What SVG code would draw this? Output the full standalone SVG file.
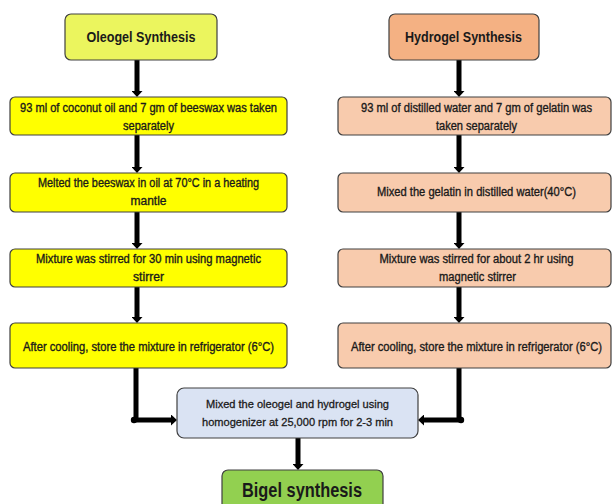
<svg xmlns="http://www.w3.org/2000/svg" width="612" height="504" viewBox="0 0 612 504">
<style>
.box{stroke:#404040;stroke-width:1.2}
.yl{fill:#FFFF00}.ol{fill:#EBF55E}.hy{fill:#F4B183}.pk{fill:#F8CBAD}.bl{fill:#DAE3F3}.gr{fill:#92D050}
text{font-family:"Liberation Sans Narrow","Liberation Sans",Arial,sans-serif;fill:#1a1a1a;text-anchor:middle}
.t{font-size:12.5px;stroke:#1a1a1a;stroke-width:0.35}
.h{font-size:15px;font-weight:bold}
.b{font-size:20px;font-weight:bold}
.m{font-size:11.5px;stroke:#1a1a1a;stroke-width:0.3}
.c{stroke:#000;stroke-width:5;fill:none}
</style>
<defs>
<marker id="ah" viewBox="0 0 6 11" refX="0" refY="5.5" markerWidth="6" markerHeight="11" markerUnits="userSpaceOnUse" orient="auto">
<path d="M0,0 L6,5.5 L0,11 z" fill="#000"/>
</marker>
</defs>
<g id="connectors">
<line class="c" x1="137" y1="60" x2="137" y2="91" marker-end="url(#ah)"/>
<line class="c" x1="137" y1="135" x2="137" y2="167" marker-end="url(#ah)"/>
<line class="c" x1="137" y1="212" x2="137" y2="243" marker-end="url(#ah)"/>
<line class="c" x1="137" y1="287" x2="137" y2="317" marker-end="url(#ah)"/>
<line class="c" x1="459" y1="60" x2="459" y2="91" marker-end="url(#ah)"/>
<line class="c" x1="459" y1="135" x2="459" y2="167" marker-end="url(#ah)"/>
<line class="c" x1="459" y1="212" x2="459" y2="243" marker-end="url(#ah)"/>
<line class="c" x1="459" y1="287" x2="459" y2="317" marker-end="url(#ah)"/>
<polyline class="c" points="136,368 136,420 171,420" marker-end="url(#ah)"/>
<polyline class="c" points="459,368 459,420 424,420" marker-end="url(#ah)"/>
<circle cx="134" cy="420" r="3.2" fill="#000"/>
<circle cx="461" cy="420" r="3.2" fill="#000"/>
<line class="c" x1="298" y1="438" x2="298" y2="464" marker-end="url(#ah)"/>
</g>
<g id="oleogel">
<rect class="box ol" x="65" y="14" width="152" height="46" rx="6"/>
<text class="h" x="141" y="42" textLength="109" lengthAdjust="spacingAndGlyphs">Oleogel Synthesis</text>
</g>
<g id="hydrogel">
<rect class="box hy" x="389" y="14" width="150" height="46" rx="6"/>
<text class="h" x="463.5" y="42" textLength="117" lengthAdjust="spacingAndGlyphs">Hydrogel Synthesis</text>
</g>
<g id="o1">
<rect class="box yl" x="10" y="97" width="277" height="38" rx="5"/>
<text class="t" x="148.5" y="112" textLength="257" lengthAdjust="spacingAndGlyphs">93 ml of coconut oil and 7 gm of beeswax was taken</text>
<text class="t" x="148.5" y="130" textLength="51" lengthAdjust="spacingAndGlyphs">separately</text>
</g>
<g id="o2">
<rect class="box yl" x="10" y="173" width="277" height="39" rx="5"/>
<text class="t" x="148.5" y="187" textLength="221" lengthAdjust="spacingAndGlyphs">Melted the beeswax in oil at 70°C in a heating</text>
<text class="t" x="148.5" y="205" textLength="36" lengthAdjust="spacingAndGlyphs">mantle</text>
</g>
<g id="o3">
<rect class="box yl" x="10" y="249" width="277" height="38" rx="5"/>
<text class="t" x="148.5" y="263" textLength="225" lengthAdjust="spacingAndGlyphs">Mixture was stirred for 30 min using magnetic</text>
<text class="t" x="148.5" y="281" textLength="31" lengthAdjust="spacingAndGlyphs">stirrer</text>
</g>
<g id="o4">
<rect class="box yl" x="10" y="323" width="277" height="45" rx="5"/>
<text class="t" x="148.5" y="351" textLength="251" lengthAdjust="spacingAndGlyphs">After cooling, store the mixture in refrigerator (6°C)</text>
</g>
<g id="h1">
<rect class="box pk" x="338" y="97" width="273" height="38" rx="5"/>
<text class="t" x="476.5" y="112" textLength="231" lengthAdjust="spacingAndGlyphs">93 ml of distilled water and 7 gm of gelatin was</text>
<text class="t" x="476.5" y="130" textLength="81" lengthAdjust="spacingAndGlyphs">taken separately</text>
</g>
<g id="h2">
<rect class="box pk" x="338" y="173" width="273" height="39" rx="5"/>
<text class="t" x="476.5" y="196" textLength="199" lengthAdjust="spacingAndGlyphs">Mixed the gelatin in distilled water(40°C)</text>
</g>
<g id="h3">
<rect class="box pk" x="338" y="249" width="273" height="38" rx="5"/>
<text class="t" x="476.5" y="263" textLength="194" lengthAdjust="spacingAndGlyphs">Mixture was stirred for about 2 hr using</text>
<text class="t" x="477.5" y="281" textLength="77" lengthAdjust="spacingAndGlyphs">magnetic stirrer</text>
</g>
<g id="h4">
<rect class="box pk" x="338" y="323" width="273" height="45" rx="5"/>
<text class="t" x="476.5" y="351" textLength="251" lengthAdjust="spacingAndGlyphs">After cooling, store the mixture in refrigerator (6°C)</text>
</g>
<g id="mix">
<rect class="box bl" x="177" y="388" width="241" height="50" rx="7"/>
<text class="m" x="297.5" y="408" textLength="183" lengthAdjust="spacingAndGlyphs">Mixed the oleogel and hydrogel using</text>
<text class="m" x="297.5" y="426" textLength="191" lengthAdjust="spacingAndGlyphs">homogenizer at 25,000 rpm for 2-3 min</text>
</g>
<g id="bigel">
<rect class="box gr" x="222" y="470" width="161" height="44" rx="6"/>
<text class="b" x="302" y="497" textLength="120" lengthAdjust="spacingAndGlyphs">Bigel synthesis</text>
</g>
</svg>
